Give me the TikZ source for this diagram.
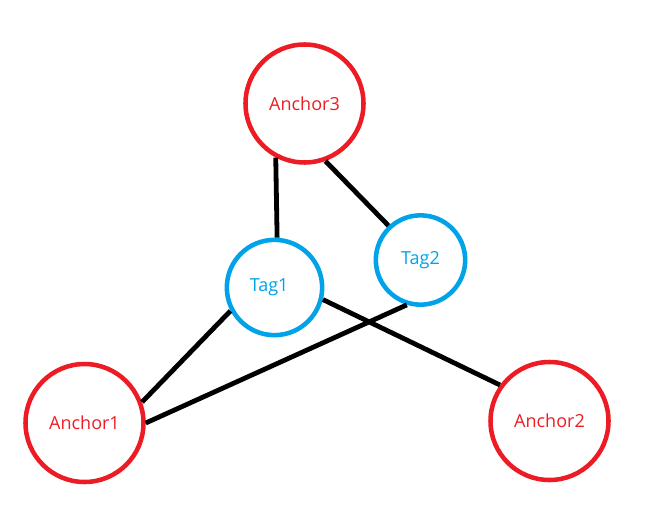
\documentclass[tikz,border=0pt]{standalone}
\usepackage{fontspec}
\setmainfont{Open Sans}
\definecolor{pred}{HTML}{ED1C24}
\definecolor{pblue}{HTML}{00A2E8}
\begin{document}
\begin{tikzpicture}[x=0.75pt,y=-0.75pt,
  anchornode/.style={circle,draw=pred,line width=3.4pt,text=pred,minimum size=88.5pt,inner sep=0pt,font=\fontsize{13.5}{16}\selectfont},
  tagnode/.style={circle,draw=pblue,line width=3.4pt,text=pblue,inner sep=0pt,font=\fontsize{13.5}{16}\selectfont},
  link/.style={line width=3.6pt,black}]
\useasboundingbox (0,0) rectangle (670,528);
\node[anchornode] (a3) at (304.5,103.5) {Anchor3};
\node[anchornode] (a1) at (84.5,423) {Anchor1};
\node[anchornode] (a2) at (549.5,421) {Anchor2};
\node[tagnode,minimum size=71.5pt] (t1) at (274.5,287.5) {Tag1\kern 8pt};
\node[tagnode,minimum size=67pt] (t2) at (420.5,260) {Tag2};
\draw[link] (a3.242) -- (t1.87);
\draw[link] (a3.290) -- (t2.133);
\draw[link] (t1.208) -- (a1.20);
\draw[link] (t2.253) -- (a1.0);
\draw[link] (t1.346) -- (a2.144);
\end{tikzpicture}
\end{document}
